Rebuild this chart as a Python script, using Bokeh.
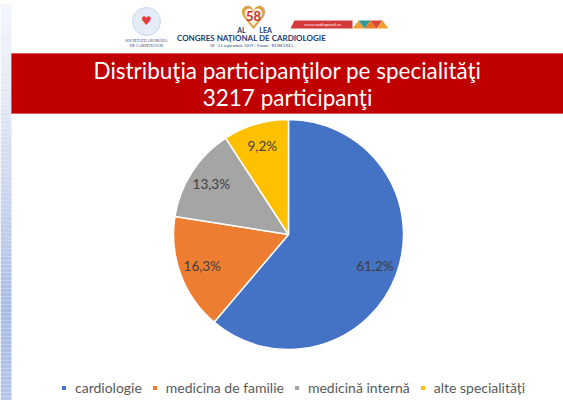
import math
from bokeh.plotting import figure
from bokeh.models import Range1d, Legend, LegendItem, ColumnDataSource
from bokeh.core.properties import value
from bokeh.embed import file_html
from bokeh.resources import INLINE

# ---- data ----
categories = ["cardiologie", "medicina de familie", "medicină internă", "alte specialități"]
shares = [61.2, 16.3, 13.3, 9.2]
share_labels = ["61,2%", "16,3%", "13,3%", "9,2%"]
colors = ["#4472C4", "#ED7D31", "#A5A5A5", "#FFC000"]
title_lines = ["Distribuţia participanţilor pe specialităţi", "3217 participanţi"]

W, H = 563, 400
p = figure(width=W, height=H, x_range=Range1d(0, W), y_range=Range1d(0, H),
           output_backend="svg", toolbar_location=None, min_border=0)
p.axis.visible = False
p.grid.visible = False
p.outline_line_color = None
p.background_fill_color = "white"
p.border_fill_color = "white"

def Y(y):
    return H - y

# left gradient strip
stops = [(4, (242, 245, 251)), (100, (226, 232, 245)), (200, (201, 213, 237)),
         (310, (169, 189, 227)), (400, (181, 198, 230))]
def col_at(y):
    for (y0, c0), (y1, c1) in zip(stops[:-1], stops[1:]):
        if y0 <= y <= y1:
            t = (y - y0) / (y1 - y0)
            c = [round(a + (b - a) * t) for a, b in zip(c0, c1)]
            return "#%02x%02x%02x" % tuple(c)
    return "#b5c6e6"
band_tops = list(range(4, 400, 4))
p.quad(left=0, right=11, top=[Y(t) for t in band_tops], bottom=[Y(t + 4) for t in band_tops],
       fill_color=[col_at(t + 2) for t in band_tops], line_color=None)

# red title bar
p.quad(left=11, right=570, top=Y(53), bottom=Y(113), fill_color="#C00000", line_color="#E05A5A", line_width=1)
p.text(x=[287, 287], y=[Y(70), Y(97)], text=title_lines, text_color="white",
       text_font=value("Lato"), text_font_size="22.5px", text_align="center", text_baseline="middle")

# header: left logo
p.scatter(x=[146], y=[Y(21)], size=28, marker="circle", fill_color="#E3ECF7", line_color="#C9D8EE")
p.text(x=[146], y=[Y(20)], text=["♥"], text_color="#E23B3B", text_font=value("DejaVu Sans"),
       text_font_size="12px", text_align="center", text_baseline="middle")
p.text(x=[146, 146], y=[Y(40), Y(45)], text=["SOCIETATEA ROMÂNĂ", "DE CARDIOLOGIE"],
       text_color="#2B3F6B", text_font=value("Liberation Sans Narrow"), text_font_size="4px",
       text_align="center", text_baseline="middle")

# header: 58 heart logo
p.text(x=[253], y=[Y(17)], text=["♥"], text_color="#D9A23F", text_font=value("DejaVu Sans"),
       text_font_size="32px", text_align="center", text_baseline="middle")
p.text(x=[253], y=[Y(17)], text=["♥"], text_color="#FBEFE3", text_font=value("DejaVu Sans"),
       text_font_size="24px", text_align="center", text_baseline="middle")
p.text(x=[253], y=[Y(15)], text=["58"], text_color="#C0392B", text_font=value("Lato"),
       text_font_style="bold", text_font_size="13px", text_align="center", text_baseline="middle")
p.text(x=[241, 265], y=[Y(29), Y(29)], text=["AL", "LEA"], text_color="#1F3A6E", text_font=value("Lato"),
       text_font_style="bold", text_font_size="7px", text_align="center", text_baseline="middle")
p.text(x=[251], y=[Y(37)], text=["CONGRES NAŢIONAL DE CARDIOLOGIE"], text_color="#1F3A6E",
       text_font=value("Lato"), text_font_style="bold", text_font_size="8px",
       text_align="center", text_baseline="middle")
p.text(x=[251], y=[Y(45)], text=["18 - 21 septembrie 2019 / Sinaia - ROMÂNIA"], text_color="#1F3A6E",
       text_font=value("Liberation Sans Narrow"), text_font_size="4.5px",
       text_align="center", text_baseline="middle")

# header: ribbon and triangles
p.patch(x=[294, 352, 352, 290], y=[Y(20), Y(20), Y(28), Y(28)], fill_color="#D33A3A", line_color=None)
p.text(x=[322], y=[Y(24)], text=["www.cardioportal.ro"], text_color="white",
       text_font=value("Liberation Sans Narrow"), text_font_size="4.5px",
       text_align="center", text_baseline="middle")
tri_x = [[352, 358, 364], [358, 364, 370], [364, 370, 376], [370, 376, 382], [376, 382, 388]]
tri_y = [[Y(28), Y(20), Y(28)], [Y(20), Y(28), Y(20)], [Y(28), Y(20), Y(28)],
         [Y(20), Y(28), Y(20)], [Y(28), Y(20), Y(28)]]
p.patches(xs=tri_x, ys=tri_y, fill_color=["#F0A030", "#2E9C9C", "#E87A2A", "#D9463A", "#F0A030"], line_color=None)

# ---- pie ----
cx, cy, R = 288, Y(234), 115
total = sum(shares)
cum = [0]
for s in shares:
    cum.append(cum[-1] + s)
start = [math.pi / 2 - 2 * math.pi * c / total for c in cum[:-1]]
end = [math.pi / 2 - 2 * math.pi * c / total for c in cum[1:]]
src = ColumnDataSource(dict(cat=categories, start=start, end=end, color=colors))
wr = p.wedge(x=cx, y=cy, radius=R, start_angle="start", end_angle="end", direction="clock",
             fill_color="color", line_color="white", line_width=1.5, source=src)

mid = [(a + b) / 2 for a, b in zip(start, end)]
lx = [cx + 0.8 * R * math.cos(m) for m in mid]
ly = [cy + 0.8 * R * math.sin(m) for m in mid]
p.text(x=lx, y=ly, text=share_labels, text_color="#404040", text_font=value("Lato"),
       text_font_size="13.5px", text_align="center", text_baseline="middle")

legend = Legend(items=[LegendItem(label=c, renderers=[wr], index=i) for i, c in enumerate(categories)],
                orientation="horizontal", location=(60, 4), border_line_color=None,
                background_fill_alpha=0, padding=0, margin=0, spacing=9, label_standoff=8,
                glyph_width=7, glyph_height=7, label_height=16,
                label_text_font="Lato", label_text_font_size="14px", label_text_color="#595959")
p.add_layout(legend)

open("out.html", "w").write(file_html(p, INLINE))
